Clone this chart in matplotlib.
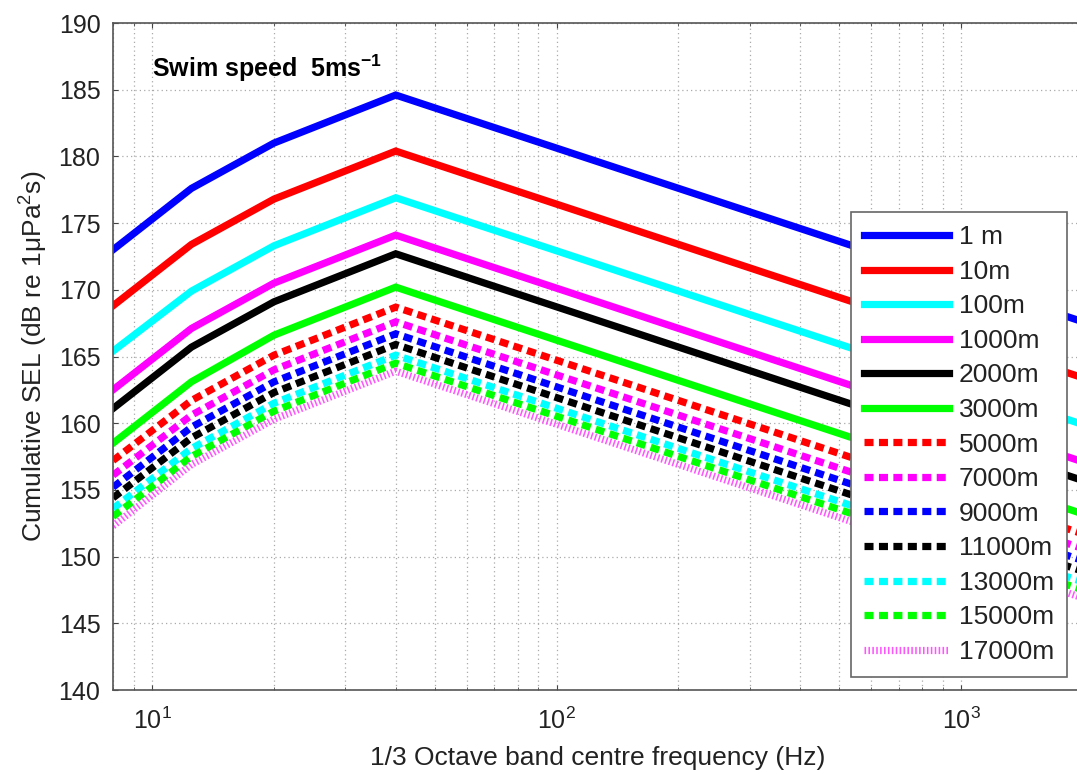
import matplotlib
matplotlib.use("Agg")
import matplotlib.pyplot as plt
from matplotlib.ticker import LogLocator, FixedLocator

plt.rcParams["font.family"] = ["Liberation Sans", "DejaVu Sans"]
plt.rcParams["mathtext.fontset"] = "custom"
plt.rcParams["mathtext.rm"] = "Liberation Sans"
plt.rcParams["mathtext.it"] = "Liberation Sans:italic"
plt.rcParams["mathtext.bf"] = "Liberation Sans:bold"

# band centre frequencies (Hz) at the line vertices
freq = [8, 12.5, 20, 40, 2000]

# cumulative SEL (dB re 1uPa^2 s) per range
sel_1m = [173.0, 177.6, 181.0, 184.6, 167.6]
sel_10m = [168.8, 173.4, 176.8, 180.4, 163.4]
sel_100m = [165.4, 169.9, 173.3, 176.9, 159.9]
sel_1000m = [162.5, 167.1, 170.5, 174.1, 157.1]
sel_2000m = [161.1, 165.7, 169.1, 172.7, 155.7]
sel_3000m = [158.5, 163.1, 166.6, 170.2, 153.2]
sel_5000m = [157.2, 161.7, 165.1, 168.7, 151.7]
sel_7000m = [156.1, 160.6, 164.0, 167.6, 150.6]
sel_9000m = [155.2, 159.7, 163.1, 166.7, 149.7]
sel_11000m = [154.4, 158.9, 162.3, 165.9, 148.9]
sel_13000m = [153.6, 158.1, 161.5, 165.1, 148.1]
sel_15000m = [153.0, 157.5, 160.9, 164.5, 147.5]
sel_17000m = [152.3, 156.9, 160.3, 163.9, 146.9]

labels = ["1 m", "10m", "100m", "1000m", "2000m", "3000m", "5000m", "7000m",
          "9000m", "11000m", "13000m", "15000m", "17000m"]
series = [sel_1m, sel_10m, sel_100m, sel_1000m, sel_2000m, sel_3000m, sel_5000m,
          sel_7000m, sel_9000m, sel_11000m, sel_13000m, sel_15000m, sel_17000m]
colors = ["#0000ff", "#ff0000", "#00ffff", "#ff00ff", "#000000", "#00ff00",
          "#ff0000", "#ff00ff", "#0000ff", "#000000", "#00ffff", "#00ff00", "#ff55ff"]
styles = ["solid"] * 6 + ["dash"] * 6 + ["dot"]

W, H = 1077, 774
fig = plt.figure(figsize=(W / 100, H / 100), dpi=100)
ax = fig.add_axes([113 / W, 1 - 690 / H, 970 / W, 667 / H])

LW = 5.2
for y, c, s, lab in zip(series, colors, styles, labels):
    if s == "solid":
        ax.plot(freq, y, color=c, lw=LW, label=lab, solid_joinstyle="miter")
    elif s == "dash":
        ax.plot(freq, y, color=c, lw=LW, label=lab, dashes=(1.25, 0.75),
                dash_capstyle="butt", dash_joinstyle="miter")
    else:
        ax.plot(freq, y, color=c, lw=LW, label=lab, dashes=(0.22, 0.32),
                dash_capstyle="butt")

ax.set_xscale("log")
ax.set_xlim(8, 2000)
ax.set_ylim(140, 190)
ax.set_yticks(range(140, 191, 5))
ax.xaxis.set_major_locator(FixedLocator([10, 100, 1000]))
ax.xaxis.set_minor_locator(LogLocator(base=10, subs=range(2, 10), numticks=20))
ax.set_xticklabels(["$10^1$", "$10^2$", "$10^3$"])

ax.grid(True, which="major", color="#aaaaaa", ls=(0, (1, 2.5)), lw=0.9)
ax.grid(True, which="minor", axis="x", color="#aaaaaa", ls=(0, (1, 2.5)), lw=0.9)
ax.set_axisbelow(True)
ax.tick_params(which="both", direction="in", colors="#444444", labelcolor="#222222",
               labelsize=18, top=True, right=False)
ax.tick_params(axis="y", pad=9)
ax.tick_params(axis="x", pad=13)
for sp in ax.spines.values():
    sp.set_color("#555555")
    sp.set_linewidth(1.2)
ax.spines["right"].set_visible(False)

ax.set_xlabel("1/3 Octave band centre frequency (Hz)", fontsize=19, labelpad=8,
              color="#222222")
ax.set_ylabel("Cumulative SEL (dB re 1μPa$^2$s)", fontsize=19, labelpad=6,
              color="#222222")

ax.text(10, 186.6, "Swim speed  5ms$^{\\mathbf{-1}}$", fontsize=18, fontweight="bold",
        va="center", ha="left")

leg = ax.legend(loc="upper left", bbox_to_anchor=(851 / W, 1 - 212 / H),
                bbox_transform=fig.transFigure, borderaxespad=0, fontsize=19,
                handlelength=3.2, labelspacing=0.4, handletextpad=0.38, borderpad=0.5,
                fancybox=False, framealpha=1, edgecolor="#666666")
leg.get_frame().set_linewidth(1.2)
for t in leg.get_texts():
    t.set_color("#222222")

fig.savefig("out.png", dpi=100)
